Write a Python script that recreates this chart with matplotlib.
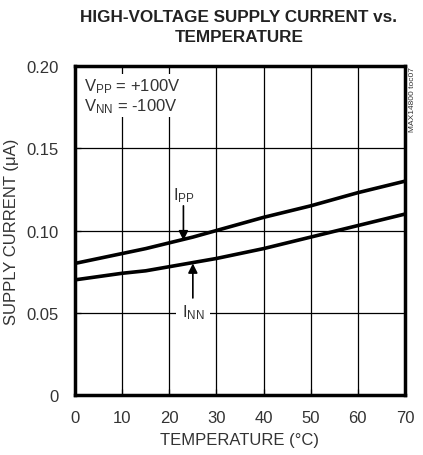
import matplotlib.pyplot as plt

# temperature (°C) and supply currents (uA)
temp = [0, 5, 10, 15, 20, 25, 30, 40, 50, 60, 70]
i_pp = [0.080, 0.083, 0.086, 0.089, 0.0925, 0.096, 0.100, 0.108, 0.115, 0.123, 0.130]
i_nn = [0.070, 0.072, 0.074, 0.0755, 0.078, 0.0805, 0.083, 0.089, 0.096, 0.103, 0.110]

x_ticks = [0, 10, 20, 30, 40, 50, 60, 70]
y_ticks = [0, 0.05, 0.10, 0.15, 0.20]
y_ticklabels = ["0", "0.05", "0.10", "0.15", "0.20"]

plt.rcParams["font.family"] = ["Liberation Sans", "DejaVu Sans"]
plt.rcParams["mathtext.fontset"] = "custom"
plt.rcParams["mathtext.rm"] = "Liberation Sans"

txt = "#333333"

fig = plt.figure(figsize=(4.23, 4.56), dpi=100)
ax = fig.add_axes([0.1773, 0.1316, 0.7801, 0.7214])

ax.plot(temp, i_pp, color="black", lw=2.6, zorder=3)
ax.plot(temp, i_nn, color="black", lw=2.6, zorder=3)

ax.set_xlim(0, 70)
ax.set_ylim(0, 0.20)
ax.set_xticks(x_ticks)
ax.set_yticks(y_ticks)
ax.set_yticklabels(y_ticklabels)
ax.grid(True, color="black", lw=0.9)
ax.tick_params(direction="in", length=4, width=0.9, labelsize=12, colors="black",
               labelcolor=txt)
ax.tick_params(axis="x", pad=11)
ax.tick_params(axis="y", pad=12)
for s in ax.spines.values():
    s.set_linewidth(2.5)

ax.set_xlabel("TEMPERATURE (°C)", fontsize=12, color=txt, labelpad=5)
ax.set_ylabel("SUPPLY CURRENT (μA)", fontsize=12, color=txt)
ax.yaxis.set_label_coords(-0.17, 0.5)

fig.text(0.565, 0.978, "HIGH-VOLTAGE SUPPLY CURRENT vs.\nTEMPERATURE",
         ha="center", va="top", fontsize=12.3, fontweight="bold", color="#222222",
         linespacing=1.4)

box = dict(facecolor="white", edgecolor="none", pad=1.5)
ax.text(2.0, 0.194, "$\\mathregular{V_{PP}}$ = +100V\n$\\mathregular{V_{NN}}$ = -100V",
        ha="left", va="top", fontsize=12, color=txt, bbox=box, zorder=4,
        linespacing=1.1)

ax.text(23.0, 0.116, "$\\mathregular{I_{PP}}$", ha="center", va="bottom",
        fontsize=12, color=txt, bbox=box, zorder=4)
ax.annotate("", xy=(23.0, 0.094), xytext=(23.0, 0.115),
            arrowprops=dict(arrowstyle="-|>", color="black", lw=1.2,
                            mutation_scale=14, shrinkA=0, shrinkB=0), zorder=5)

ax.text(25.0, 0.0505, "$\\mathregular{I_{NN}}$", ha="center", va="center",
        fontsize=12, color=txt, bbox=dict(facecolor="white", edgecolor="none", pad=4),
        zorder=4)
ax.annotate("", xy=(25.0, 0.080), xytext=(25.0, 0.059),
            arrowprops=dict(arrowstyle="-|>", color="black", lw=1.2,
                            mutation_scale=14, shrinkA=0, shrinkB=0), zorder=5)

fig.text(0.974, 0.853, "MAX14800 toc07", rotation=90, ha="center", va="top",
         fontsize=6, color=txt)

fig.savefig("out.png", dpi=100)
